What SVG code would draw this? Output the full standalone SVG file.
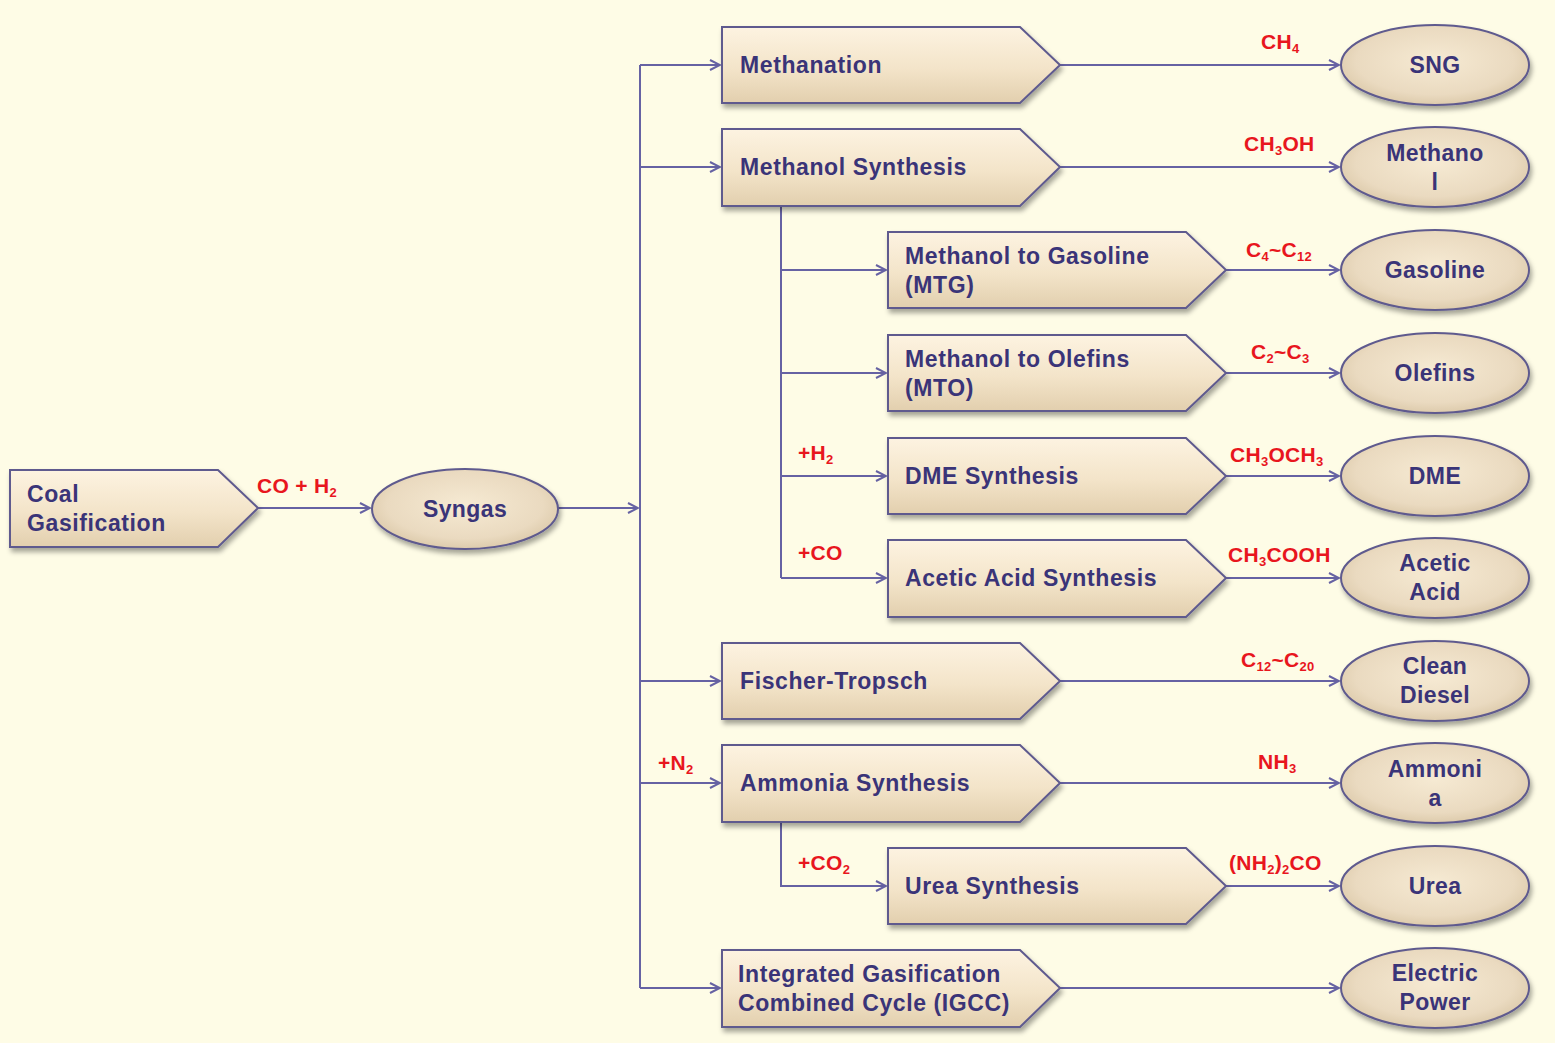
<svg xmlns="http://www.w3.org/2000/svg" width="1555" height="1043" viewBox="0 0 1555 1043">
<style>
.box{fill:url(#gBox);stroke:#5E5A8E;stroke-width:2;filter:url(#sh)}
.ell{fill:url(#gEll);stroke:#5E5A8E;stroke-width:2;filter:url(#sh)}
.t{font-family:"Liberation Sans",Arial,sans-serif;font-size:23px;font-weight:bold;fill:#3A3478;letter-spacing:0.6px}
.tc{font-family:"Liberation Sans",Arial,sans-serif;font-size:23px;font-weight:bold;fill:#3A3478;text-anchor:middle;letter-spacing:0.4px}
.r{font-family:"Liberation Sans",Arial,sans-serif;font-size:21px;font-weight:bold;fill:#E8161E;letter-spacing:0.3px}
.c{fill:none;stroke:#6662A3;stroke-width:2}
.s{font-size:13px}
</style>
<defs>
<linearGradient id="gBox" x1="0" y1="0" x2="0" y2="1">
<stop offset="0" stop-color="#FDF3E1"/>
<stop offset="0.55" stop-color="#F3E4C9"/>
<stop offset="1" stop-color="#E2CFAE"/>
</linearGradient>
<radialGradient id="gEll" cx="0.5" cy="0.45" r="0.6">
<stop offset="0" stop-color="#F6EAD3"/>
<stop offset="0.7" stop-color="#EADAC0"/>
<stop offset="1" stop-color="#D8C5A4"/>
</radialGradient>
<filter id="sh" x="-10%" y="-20%" width="125%" height="150%">
<feDropShadow dx="2" dy="4" stdDeviation="2.5" flood-color="#000" flood-opacity="0.35"/>
</filter>
<marker id="ah" viewBox="0 0 12 12" refX="11" refY="6" markerWidth="12" markerHeight="12" markerUnits="userSpaceOnUse" orient="auto">
<path d="M1,1 L11,6 L1,11" fill="none" stroke="#6662A3" stroke-width="2"/>
</marker>
</defs>
<rect x="0" y="0" width="1555" height="1043" fill="#FEFCE6"/>

<g id="connectors">
<path class="c" d="M258,508 H370" marker-end="url(#ah)"/>
<path class="c" d="M558,508 H638" marker-end="url(#ah)"/>
<path class="c" d="M640,65 V988"/>
<path class="c" d="M640,65 H720" marker-end="url(#ah)"/>
<path class="c" d="M640,167 H720" marker-end="url(#ah)"/>
<path class="c" d="M640,681 H720" marker-end="url(#ah)"/>
<path class="c" d="M640,783 H720" marker-end="url(#ah)"/>
<path class="c" d="M640,988 H720" marker-end="url(#ah)"/>
<path class="c" d="M781,206 V578"/>
<path class="c" d="M781,270 H886" marker-end="url(#ah)"/>
<path class="c" d="M781,373 H886" marker-end="url(#ah)"/>
<path class="c" d="M781,476 H886" marker-end="url(#ah)"/>
<path class="c" d="M781,578 H886" marker-end="url(#ah)"/>
<path class="c" d="M781,822 V886 H886" marker-end="url(#ah)"/>
<path class="c" d="M1060,65 H1339" marker-end="url(#ah)"/>
<path class="c" d="M1060,167 H1339" marker-end="url(#ah)"/>
<path class="c" d="M1226,270 H1339" marker-end="url(#ah)"/>
<path class="c" d="M1226,373 H1339" marker-end="url(#ah)"/>
<path class="c" d="M1226,476 H1339" marker-end="url(#ah)"/>
<path class="c" d="M1226,578 H1339" marker-end="url(#ah)"/>
<path class="c" d="M1060,681 H1339" marker-end="url(#ah)"/>
<path class="c" d="M1060,783 H1339" marker-end="url(#ah)"/>
<path class="c" d="M1226,886 H1339" marker-end="url(#ah)"/>
<path class="c" d="M1060,988 H1339" marker-end="url(#ah)"/>
<text class="r" x="257" y="493">CO + H<tspan class="s" dy="4">2</tspan></text>
<text class="r" x="1261" y="49">CH<tspan class="s" dy="4">4</tspan></text>
<text class="r" x="1244" y="151">CH<tspan class="s" dy="4">3</tspan><tspan dy="-4">OH</tspan></text>
<text class="r" x="1246" y="257">C<tspan class="s" dy="4">4</tspan><tspan dy="-4">~C</tspan><tspan class="s" dy="4">12</tspan></text>
<text class="r" x="1251" y="359">C<tspan class="s" dy="4">2</tspan><tspan dy="-4">~C</tspan><tspan class="s" dy="4">3</tspan></text>
<text class="r" x="1230" y="462">CH<tspan class="s" dy="4">3</tspan><tspan dy="-4">OCH</tspan><tspan class="s" dy="4">3</tspan></text>
<text class="r" x="1228" y="562">CH<tspan class="s" dy="4">3</tspan><tspan dy="-4">COOH</tspan></text>
<text class="r" x="1241" y="667">C<tspan class="s" dy="4">12</tspan><tspan dy="-4">~C</tspan><tspan class="s" dy="4">20</tspan></text>
<text class="r" x="1258" y="769">NH<tspan class="s" dy="4">3</tspan></text>
<text class="r" x="1229" y="870">(NH<tspan class="s" dy="4">2</tspan><tspan dy="-4">)</tspan><tspan class="s" dy="4">2</tspan><tspan dy="-4">CO</tspan></text>
<text class="r" x="798" y="460">+H<tspan class="s" dy="4">2</tspan></text>
<text class="r" x="798" y="560">+CO</text>
<text class="r" x="658" y="770">+N<tspan class="s" dy="4">2</tspan></text>
<text class="r" x="798" y="870">+CO<tspan class="s" dy="4">2</tspan></text>
</g>

<g id="coal"><path class="box" d="M10,470 H218 L258,508 L218,547 H10 Z"/><text class="t" x="27" y="502">Coal</text><text class="t" x="27" y="531">Gasification</text></g>
<g id="syngas"><ellipse class="ell" cx="465" cy="509" rx="93" ry="40"/><text class="tc" x="465" y="517">Syngas</text></g>

<g id="methanation"><path class="box" d="M722,27 H1020 L1060,65 L1020,103 H722 Z"/><text class="t" x="740" y="73">Methanation</text></g>
<g id="methanol-synthesis"><path class="box" d="M722,129 H1020 L1060,167 L1020,206 H722 Z"/><text class="t" x="740" y="175">Methanol Synthesis</text></g>
<g id="mtg"><path class="box" d="M888,232 H1186 L1226,270 L1186,308 H888 Z"/><text class="t" x="905" y="264">Methanol to Gasoline</text><text class="t" x="905" y="293">(MTG)</text></g>
<g id="mto"><path class="box" d="M888,335 H1186 L1226,373 L1186,411 H888 Z"/><text class="t" x="905" y="367">Methanol to Olefins</text><text class="t" x="905" y="396">(MTO)</text></g>
<g id="dme-synthesis"><path class="box" d="M888,438 H1186 L1226,476 L1186,514 H888 Z"/><text class="t" x="905" y="484">DME Synthesis</text></g>
<g id="acetic-synthesis"><path class="box" d="M888,540 H1186 L1226,578 L1186,617 H888 Z"/><text class="t" x="905" y="586">Acetic Acid Synthesis</text></g>
<g id="fischer-tropsch"><path class="box" d="M722,643 H1020 L1060,681 L1020,719 H722 Z"/><text class="t" x="740" y="689">Fischer-Tropsch</text></g>
<g id="ammonia-synthesis"><path class="box" d="M722,745 H1020 L1060,783 L1020,822 H722 Z"/><text class="t" x="740" y="791">Ammonia Synthesis</text></g>
<g id="urea-synthesis"><path class="box" d="M888,848 H1186 L1226,886 L1186,924 H888 Z"/><text class="t" x="905" y="894">Urea Synthesis</text></g>
<g id="igcc"><path class="box" d="M722,950 H1020 L1060,988 L1020,1027 H722 Z"/><text class="t" x="738" y="982">Integrated Gasification</text><text class="t" x="738" y="1011">Combined Cycle (IGCC)</text></g>

<g id="sng"><ellipse class="ell" cx="1435" cy="65" rx="94" ry="40"/><text class="tc" x="1435" y="73">SNG</text></g>
<g id="methanol"><ellipse class="ell" cx="1435" cy="167" rx="94" ry="40"/><text class="tc" x="1435" y="161">Methano</text><text class="tc" x="1435" y="190">l</text></g>
<g id="gasoline"><ellipse class="ell" cx="1435" cy="270" rx="94" ry="40"/><text class="tc" x="1435" y="278">Gasoline</text></g>
<g id="olefins"><ellipse class="ell" cx="1435" cy="373" rx="94" ry="40"/><text class="tc" x="1435" y="381">Olefins</text></g>
<g id="dme"><ellipse class="ell" cx="1435" cy="476" rx="94" ry="40"/><text class="tc" x="1435" y="484">DME</text></g>
<g id="acetic-acid"><ellipse class="ell" cx="1435" cy="578" rx="94" ry="40"/><text class="tc" x="1435" y="571">Acetic</text><text class="tc" x="1435" y="600">Acid</text></g>
<g id="clean-diesel"><ellipse class="ell" cx="1435" cy="681" rx="94" ry="40"/><text class="tc" x="1435" y="674">Clean</text><text class="tc" x="1435" y="703">Diesel</text></g>
<g id="ammonia"><ellipse class="ell" cx="1435" cy="783" rx="94" ry="40"/><text class="tc" x="1435" y="777">Ammoni</text><text class="tc" x="1435" y="806">a</text></g>
<g id="urea"><ellipse class="ell" cx="1435" cy="886" rx="94" ry="40"/><text class="tc" x="1435" y="894">Urea</text></g>
<g id="electric-power"><ellipse class="ell" cx="1435" cy="988" rx="94" ry="40"/><text class="tc" x="1435" y="981">Electric</text><text class="tc" x="1435" y="1010">Power</text></g>
</svg>
